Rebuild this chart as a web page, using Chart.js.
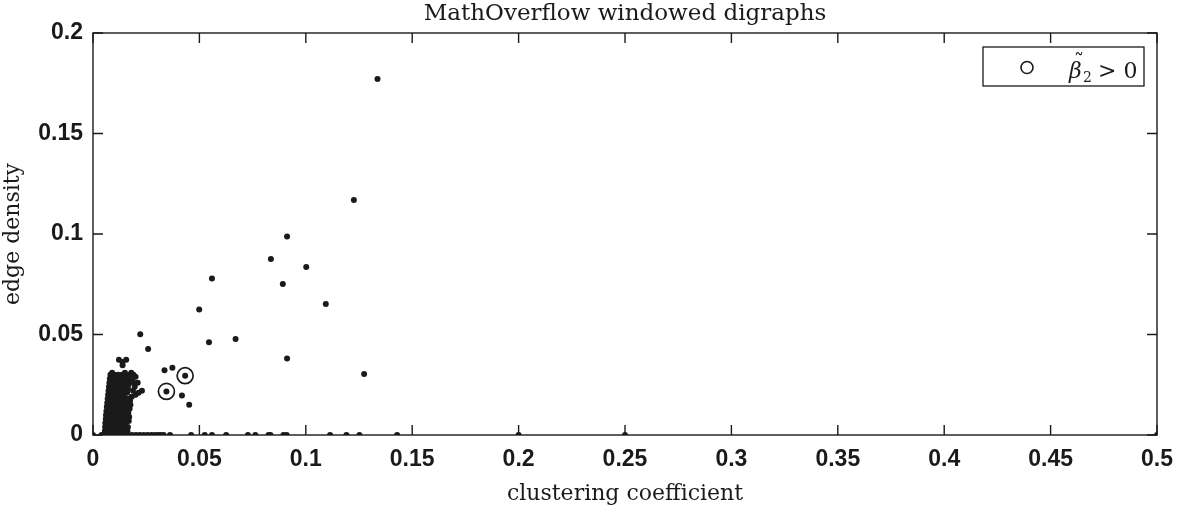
<!DOCTYPE html>
<html>
<head>
<meta charset="utf-8">
<script src="https://cdn.jsdelivr.net/npm/chart.js@4"></script>
<style>
  html, body { margin: 0; padding: 0; background: #fff; }
  #wrap { width: 1184px; height: 508px; position: relative; }
</style>
</head>
<body>
<div id="wrap"><canvas id="scatter"></canvas></div>
<script>
// MathOverflow windowed digraphs: clustering coefficient vs edge density
const xTicks = [0, 0.05, 0.1, 0.15, 0.2, 0.25, 0.3, 0.35, 0.4, 0.45, 0.5];
const xTickLabels = ["0", "0.05", "0.1", "0.15", "0.2", "0.25", "0.3", "0.35", "0.4", "0.45", "0.5"];
const yTicks = [0, 0.05, 0.1, 0.15, 0.2];
const yTickLabels = ["0", "0.05", "0.1", "0.15", "0.2"];

// scattered windows away from the main cluster
const spreadPts = [
  [0.1337, 0.1771], [0.1226, 0.1169], [0.0912, 0.0987], [0.0836, 0.0876],
  [0.1002, 0.0836], [0.0559, 0.0778], [0.0892, 0.0751], [0.1094, 0.0652],
  [0.0499, 0.0624], [0.0222, 0.0501], [0.0259, 0.0428], [0.0545, 0.0461],
  [0.0670, 0.0478], [0.0912, 0.0380], [0.1274, 0.0303], [0.0336, 0.0322],
  [0.0373, 0.0335], [0.0418, 0.0196], [0.0452, 0.0151]
];

// windows with zero edge density
const zeroPts = [
  [0, 0], [0.0040, 0], [0.0058, 0], [0.0076, 0], [0.0094, 0], [0.0112, 0],
  [0.0130, 0], [0.0148, 0], [0.0166, 0], [0.0184, 0], [0.0202, 0], [0.0220, 0],
  [0.0238, 0], [0.0256, 0], [0.0274, 0], [0.0290, 0], [0.0305, 0], [0.0318, 0],
  [0.0332, 0], [0.0362, 0], [0.0461, 0], [0.0525, 0], [0.0559, 0], [0.0626, 0],
  [0.0728, 0], [0.0763, 0], [0.0825, 0], [0.0834, 0], [0.0895, 0], [0.0910, 0],
  [0.1114, 0], [0.1191, 0], [0.1252, 0], [0.1429, 0], [0.2, 0], [0.25, 0], [0.5, 0]
];

// the dense cluster near the origin
const clusterPts = [
  [0.0056, 0.002], [0.0074, 0.002], [0.0092, 0.002], [0.0110, 0.002], [0.0128, 0.002], [0.0146, 0.002], [0.0162, 0.002],
  [0.0057, 0.004], [0.0075, 0.004], [0.0094, 0.004], [0.0112, 0.004], [0.0130, 0.004], [0.0148, 0.004], [0.0164, 0.004],
  [0.0058, 0.006], [0.0077, 0.006], [0.0096, 0.006], [0.0114, 0.006], [0.0132, 0.006], [0.0150, 0.006], [0.0168, 0.007],
  [0.0060, 0.008], [0.0079, 0.008], [0.0097, 0.008], [0.0115, 0.008], [0.0133, 0.008], [0.0151, 0.008], [0.0170, 0.009],
  [0.0061, 0.010], [0.0080, 0.010], [0.0098, 0.010], [0.0116, 0.010], [0.0134, 0.010], [0.0152, 0.010], [0.0166, 0.011],
  [0.0063, 0.012], [0.0082, 0.012], [0.0100, 0.012], [0.0118, 0.012], [0.0136, 0.012], [0.0154, 0.012], [0.0172, 0.013],
  [0.0065, 0.014], [0.0084, 0.014], [0.0102, 0.014], [0.0120, 0.014], [0.0138, 0.014], [0.0156, 0.014], [0.0176, 0.015],
  [0.0067, 0.016], [0.0086, 0.016], [0.0104, 0.016], [0.0122, 0.016], [0.0140, 0.016], [0.0158, 0.016], [0.0174, 0.017],
  [0.0069, 0.018], [0.0088, 0.018], [0.0106, 0.018], [0.0124, 0.018], [0.0142, 0.018], [0.0160, 0.018], [0.0182, 0.019], [0.0200, 0.020],
  [0.0071, 0.020], [0.0090, 0.020], [0.0108, 0.020], [0.0126, 0.020], [0.0144, 0.020], [0.0160, 0.021], [0.0188, 0.022], [0.0214, 0.021],
  [0.0073, 0.022], [0.0092, 0.022], [0.0110, 0.022], [0.0128, 0.022], [0.0146, 0.022], [0.0164, 0.023], [0.0196, 0.024], [0.0230, 0.022],
  [0.0075, 0.024], [0.0094, 0.024], [0.0112, 0.024], [0.0130, 0.024], [0.0148, 0.024], [0.0166, 0.025], [0.0190, 0.026], [0.0210, 0.026],
  [0.0077, 0.026], [0.0096, 0.026], [0.0114, 0.026], [0.0132, 0.026], [0.0150, 0.026], [0.0168, 0.027], [0.0186, 0.027],
  [0.0079, 0.028], [0.0098, 0.028], [0.0116, 0.028], [0.0134, 0.028], [0.0152, 0.028], [0.0172, 0.029],
  [0.0082, 0.030], [0.0100, 0.030], [0.0118, 0.030], [0.0136, 0.030], [0.0154, 0.030], [0.0172, 0.030], [0.0190, 0.030], [0.0200, 0.029],
  [0.0090, 0.031], [0.0150, 0.031], [0.0180, 0.031],
  [0.0122, 0.0375], [0.0156, 0.0375], [0.0139, 0.0347], [0.0139, 0.0363]
];

// windows with beta2 > 0 (marked with an open circle)
const circledPts = [[0.0345, 0.0217], [0.0433, 0.0295]];

const toXY = (arr) => arr.map(([x, y]) => ({ x, y }));
const dotPts = toXY([].concat(spreadPts, zeroPts, clusterPts, circledPts));

const INK = "#1a1a1a";
const serif = "'DejaVu Serif', 'Liberation Serif', serif";
const sans = "'Liberation Sans', Arial, sans-serif";

// MATLAB-like box with inward ticks, title and legend
const boxAxes = {
  id: "boxAxes",
  afterDraw(chart) {
    const { ctx, chartArea: a, scales } = chart;
    const x = scales.x, y = scales.y;
    const tl = 10;
    ctx.save();
    ctx.strokeStyle = INK;
    ctx.lineWidth = 1.4;
    ctx.strokeRect(a.left, a.top, a.right - a.left, a.bottom - a.top);
    ctx.beginPath();
    xTicks.forEach((v) => {
      const px = x.getPixelForValue(v);
      ctx.moveTo(px, a.bottom); ctx.lineTo(px, a.bottom - tl);
      ctx.moveTo(px, a.top); ctx.lineTo(px, a.top + tl);
    });
    yTicks.forEach((v) => {
      const py = y.getPixelForValue(v);
      ctx.moveTo(a.left, py); ctx.lineTo(a.left + tl, py);
      ctx.moveTo(a.right, py); ctx.lineTo(a.right - tl, py);
    });
    ctx.stroke();

    // title
    ctx.fillStyle = INK;
    ctx.font = "23px " + serif;
    ctx.textAlign = "center";
    ctx.textBaseline = "alphabetic";
    ctx.fillText("MathOverflow windowed digraphs", (a.left + a.right) / 2, 20);

    // legend
    const lx = 983, ly = 47, lw = 161, lh = 39;
    ctx.fillStyle = "#fff";
    ctx.fillRect(lx, ly, lw, lh);
    ctx.lineWidth = 1.3;
    ctx.strokeRect(lx, ly, lw, lh);
    ctx.beginPath();
    ctx.lineWidth = 1.6;
    ctx.arc(1027, 67.5, 6, 0, Math.PI * 2);
    ctx.stroke();
    ctx.fillStyle = INK;
    ctx.textAlign = "left";
    ctx.font = "italic 22px " + serif;
    ctx.fillText("\u03B2", 1069, 78);
    ctx.font = "20px " + serif;
    ctx.fillText("\u02DC", 1074, 68);
    ctx.font = "14px " + serif;
    ctx.fillText("2", 1083, 82);
    ctx.font = "22px " + serif;
    ctx.fillText("> 0", 1098, 78);
    ctx.restore();
  }
};

new Chart(document.getElementById("scatter"), {
  type: "scatter",
  data: {
    datasets: [
      {
        label: "windows",
        data: dotPts,
        pointRadius: 3,
        pointHoverRadius: 3,
        pointBackgroundColor: INK,
        pointBorderWidth: 0
      },
      {
        label: "beta2 > 0",
        data: toXY(circledPts),
        pointRadius: 8,
        pointHoverRadius: 8,
        pointBackgroundColor: "rgba(0,0,0,0)",
        pointBorderColor: INK,
        pointBorderWidth: 1.7
      }
    ]
  },
  options: {
    responsive: true,
    maintainAspectRatio: false,
    animation: false,
    events: [],
    layout: { padding: { top: 33, right: 18, left: 0, bottom: 0 } },
    plugins: { legend: { display: false }, tooltip: { enabled: false }, title: { display: false } },
    scales: {
      x: {
        type: "linear", min: 0, max: 0.5,
        afterBuildTicks: (s) => { s.ticks = xTicks.map((v) => ({ value: v })); },
        afterFit: (s) => { s.height = 73; },
        grid: { display: false, drawTicks: false },
        border: { display: false },
        ticks: {
          color: INK, padding: 11, maxRotation: 0, autoSkip: false,
          font: { family: sans, size: 23, weight: "bold" },
          callback: (v, i) => xTickLabels[i]
        },
        title: {
          display: true, text: "clustering coefficient", color: INK,
          font: { family: serif, size: 22 }, padding: { top: 0, bottom: 1 }
        }
      },
      y: {
        type: "linear", min: 0, max: 0.2,
        afterBuildTicks: (s) => { s.ticks = yTicks.map((v) => ({ value: v })); },
        afterFit: (s) => { s.width = 93; },
        grid: { display: false, drawTicks: false },
        border: { display: false },
        ticks: {
          color: INK, padding: 10, autoSkip: false,
          font: { family: sans, size: 23, weight: "bold" },
          callback: (v, i) => yTickLabels[i]
        },
        title: {
          display: true, text: "edge density", color: INK,
          font: { family: serif, size: 22 }, padding: { top: 0, bottom: 0 }
        }
      }
    }
  },
  plugins: [boxAxes]
});
</script>
</body>
</html>
